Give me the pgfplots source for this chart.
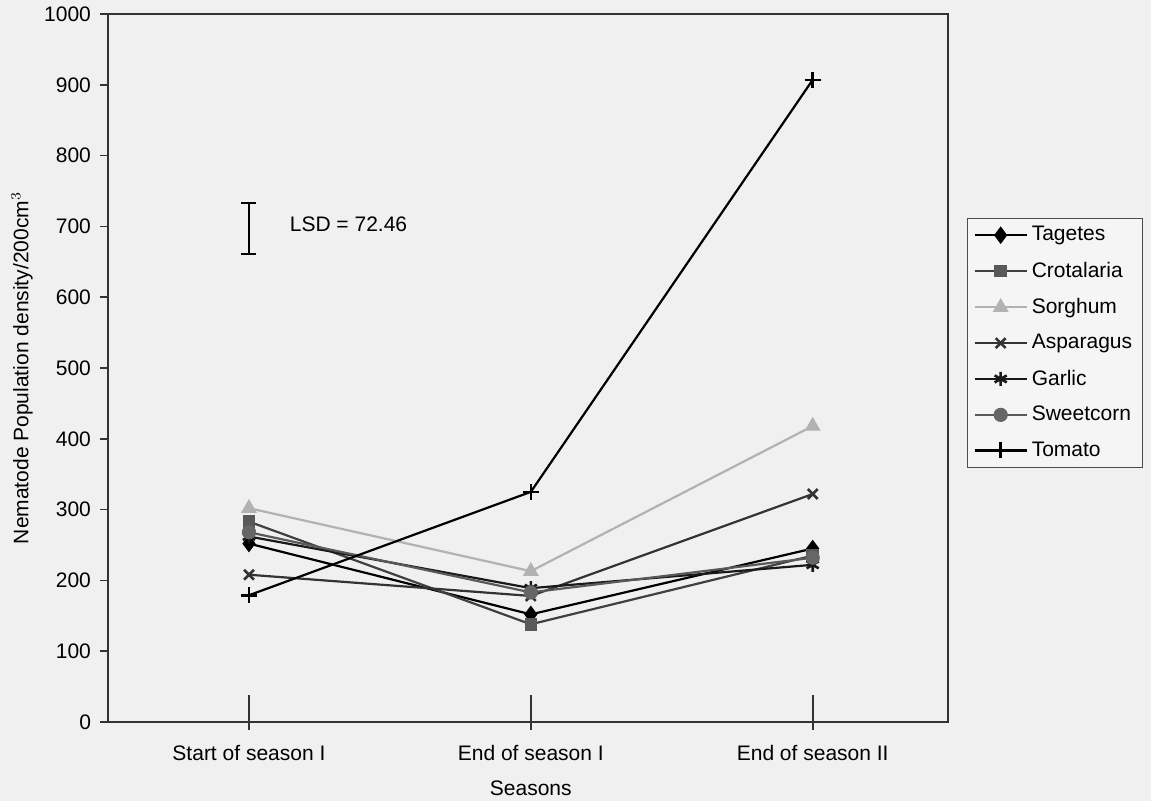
\documentclass[border=0pt]{standalone}
\usepackage{fontspec}
\setmainfont{Liberation Sans}
\usepackage{pgfplots}
\pgfplotsset{compat=1.18}
\begin{document}
\begin{tikzpicture}
\fill[white!94!black] (-54pt,-39.5pt) rectangle (521.5pt,361pt);
\path[use as bounding box] (-54pt,-39.5pt) rectangle (521.5pt,361pt);
\begin{axis}[
  at={(0pt,0pt)}, anchor=south west,
  scale only axis, width=420pt, height=354pt,
  xmin=-0.5, xmax=2.48, ymin=0, ymax=1000,
  clip=false,
  axis line style={line width=0.9pt, black!80},
  xtick={0,1,2},
  xticklabels={Start of season I, End of season I, End of season II},
  x tick style={draw=none},
  ytick={0,100,...,1000},
  y tick style={black!80, line width=0.8pt},
  tick align=outside, major tick length=4pt,
  ytick pos=left, xtick pos=bottom,
  font=\fontsize{10.5}{12.5}\selectfont,
  /pgf/number format/assume math mode=true,
  /pgf/number format/1000 sep={},
  yticklabel style={xshift=-1pt},
  xticklabel style={anchor=center, yshift=-11.5pt},
  ylabel={Nematode Population density/200cm$^{3}$},
  ylabel style={at={(axis description cs:-0.1024,0.5)}, anchor=center},
  xlabel={Seasons},
  xlabel style={at={(axis cs:1,0)}, anchor=center, yshift=-33pt},
  every axis plot/.append style={line width=1.1pt},
  legend cell align=left,
  legend style={at={(axis description cs:1.0226,0.712)}, anchor=north west,
    draw=black!70, line width=0.6pt, fill=white!96!black, row sep=5pt,
    font=\fontsize{10.5}{12.5}\selectfont},
  legend image code/.code={\draw[mark repeat=2,mark phase=2] plot coordinates {(0pt,0pt) (13pt,0pt) (26pt,0pt)};},
]
\addplot[black, mark=diamond*, mark size=3.5pt, mark options={fill=black}]
  coordinates {(0,252) (1,152) (2,245)};
\addlegendentry{Tagetes}
\addplot[black!75, mark=square*, mark size=2.6pt, mark options={fill=black!65, draw=black!65}]
  coordinates {(0,283) (1,138) (2,235)};
\addlegendentry{Crotalaria}
\addplot[black!30, mark=triangle*, mark size=3.5pt, mark options={fill=black!30}]
  coordinates {(0,302) (1,213) (2,418)};
\addlegendentry{Sorghum}
\addplot[black!80, mark=x, mark size=3.5pt, mark options={line width=1.3pt}]
  coordinates {(0,208) (1,178) (2,322)};
\addlegendentry{Asparagus}
\addplot[black!90, mark=asterisk, mark size=3.5pt, mark options={line width=1.3pt}]
  coordinates {(0,262) (1,189) (2,222)};
\addlegendentry{Garlic}
\addplot[black!65, mark=*, mark size=3pt, mark options={fill=black!60, draw=black!60}]
  coordinates {(0,268) (1,183) (2,232)};
\addlegendentry{Sweetcorn}
\addplot[black, mark=+, mark size=4pt, mark options={line width=1.3pt}]
  coordinates {(0,179) (1,325) (2,907)};
\addlegendentry{Tomato}
% LSD error bar
\addplot[black, line width=1pt, mark=none, forget plot,
  error bars/.cd, y dir=both, y explicit,
  error bar style={line width=1.1pt}, error mark options={rotate=90, mark size=3.75pt, line width=1.1pt}]
  coordinates {(0,697) +- (0,36.23)};
\node[anchor=west, font=\fontsize{10.5}{12.5}\selectfont] at (axis cs:0.12,703) {LSD = 72.46};
% category ticks
\draw[black!80, line width=1pt] (axis cs:0,-11) -- (axis cs:0,38);
\draw[black!80, line width=1pt] (axis cs:1,-11) -- (axis cs:1,38);
\draw[black!80, line width=1pt] (axis cs:2,-11) -- (axis cs:2,38);
\end{axis}
\end{tikzpicture}
\end{document}
